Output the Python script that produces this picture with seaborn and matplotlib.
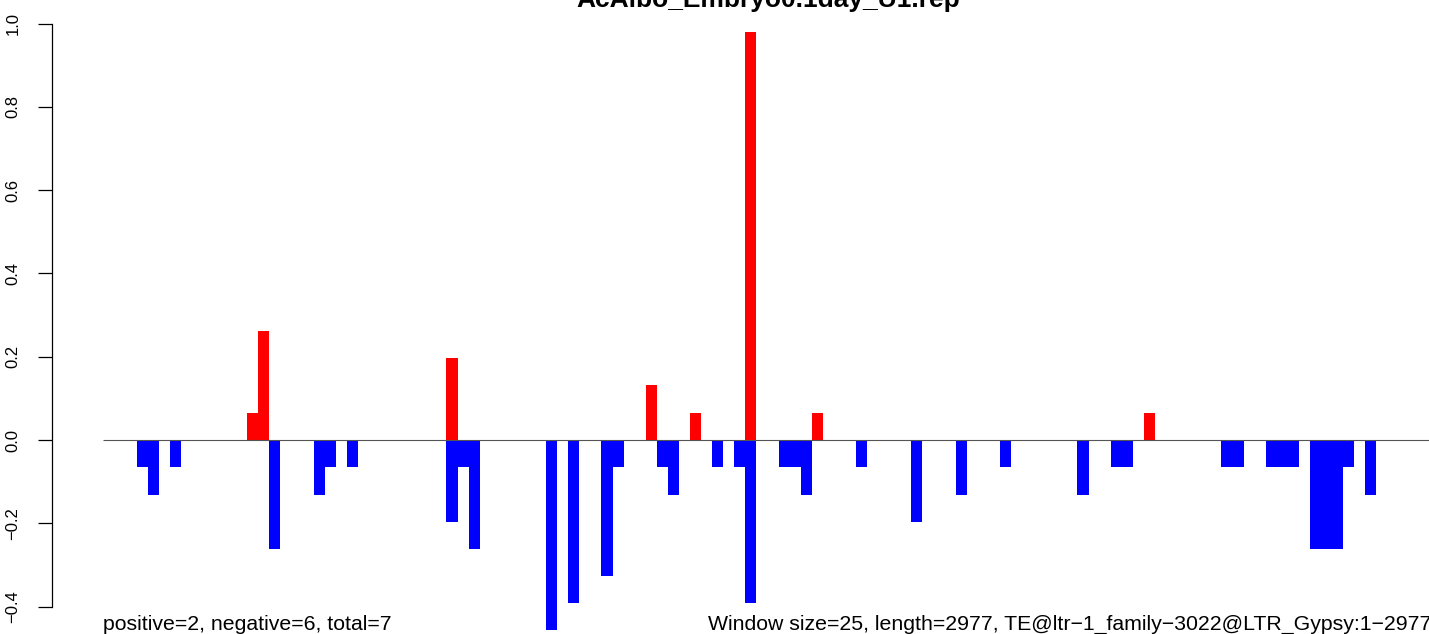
import matplotlib
matplotlib.use("Agg")
import matplotlib.pyplot as plt
import seaborn as sns
import pandas as pd

# window index -> value (window size 25, length 2977 -> 120 windows)
n_windows = 120
pos_windows = [13, 14, 31, 49, 53, 58, 64, 94]
pos_values = [0.065, 0.261, 0.196, 0.131, 0.065, 0.980, 0.065, 0.065]
neg_windows = [3, 4, 6, 15, 19, 20, 22, 31, 32, 33, 40, 42, 45, 46, 50, 51, 55, 57, 58,
               61, 62, 63, 68, 73, 77, 81, 88, 91, 92, 101, 102, 105, 106, 107, 109,
               110, 111, 112, 114]
neg_values = [-0.065, -0.131, -0.065, -0.261, -0.131, -0.065, -0.065, -0.196, -0.065,
              -0.261, -0.457, -0.392, -0.327, -0.065, -0.065, -0.131, -0.065, -0.065,
              -0.392, -0.065, -0.065, -0.131, -0.065, -0.196, -0.131, -0.065, -0.131,
              -0.065, -0.065, -0.065, -0.065, -0.065, -0.065, -0.065, -0.261, -0.261,
              -0.261, -0.065, -0.131]
yticks = [-0.4, -0.2, 0.0, 0.2, 0.4, 0.6, 0.8, 1.0]

title = "AcAlbo_Embryo0.1day_U1.rep"
left_note = "positive=2, negative=6, total=7"
right_note = "Window size=25, length=2977, TE@ltr\u22121_family\u22123022@LTR_Gypsy:1\u22122977"

pos = dict(zip(pos_windows, pos_values))
neg = dict(zip(neg_windows, neg_values))
df = pd.DataFrame({
    "window": list(range(n_windows)) * 2,
    "value": [pos.get(i, 0.0) for i in range(n_windows)] + [neg.get(i, 0.0) for i in range(n_windows)],
    "strand": ["pos"] * n_windows + ["neg"] * n_windows,
})

sns.set_style("white")
plt.rcParams["font.family"] = ["Liberation Sans", "DejaVu Sans"]
plt.rcParams["text.color"] = "black"
plt.rcParams["ytick.color"] = "black"
plt.rcParams["ytick.labelcolor"] = "black"

W, H = 1429, 634
fig = plt.figure(figsize=(W / 100, H / 100), dpi=100)
ax = fig.add_axes([52 / W, 0, (W - 52) / W, 1])

sns.barplot(data=df, x="window", y="value", hue="strand", dodge=False, width=1,
            palette={"pos": "#ff0000", "neg": "#0000ff"}, saturation=1,
            errorbar=None, linewidth=0, legend=False, ax=ax)

# bar pixel geometry: window 0 left edge at x=103.3, 11.07 px per window
bw = 11.07
ax.set_xlim((52 - 103.3) / bw - 0.5, (W - 103.3) / bw - 0.5)
ax.set_ylim(-(H - 440) / 416.5, 440 / 416.5)
ax.hlines(0, -0.5, n_windows - 0.5, color="#555555", lw=0.8, zorder=5)

ax.set_xticks([])
ax.set_xlabel("")
ax.set_ylabel("")
for s in ["top", "right", "bottom"]:
    ax.spines[s].set_visible(False)
ax.spines["left"].set_bounds(-0.4, 1.0)
ax.spines["left"].set_color("black")
ax.spines["left"].set_linewidth(0.9)
ax.set_yticks(yticks)
ax.set_yticklabels([f"{v:.1f}".replace("-", "\u2212") for v in yticks])
ax.tick_params(axis="y", left=True, length=10.4, width=0.9, pad=12.3,
               labelsize=12, labelrotation=90, color="black", labelcolor="black")
for lab in ax.get_yticklabels():
    lab.set_verticalalignment("center")

fig.text(768 / W, 1 - 7 / H, title, ha="center", va="baseline",
         fontsize=19, fontweight="bold")
fig.text(103.3 / W, 4 / H, left_note, ha="left", va="baseline", fontsize=15.3)
fig.text(708 / W, 4 / H, right_note, ha="left", va="baseline", fontsize=15.3)

fig.savefig("out.png", dpi=100)
